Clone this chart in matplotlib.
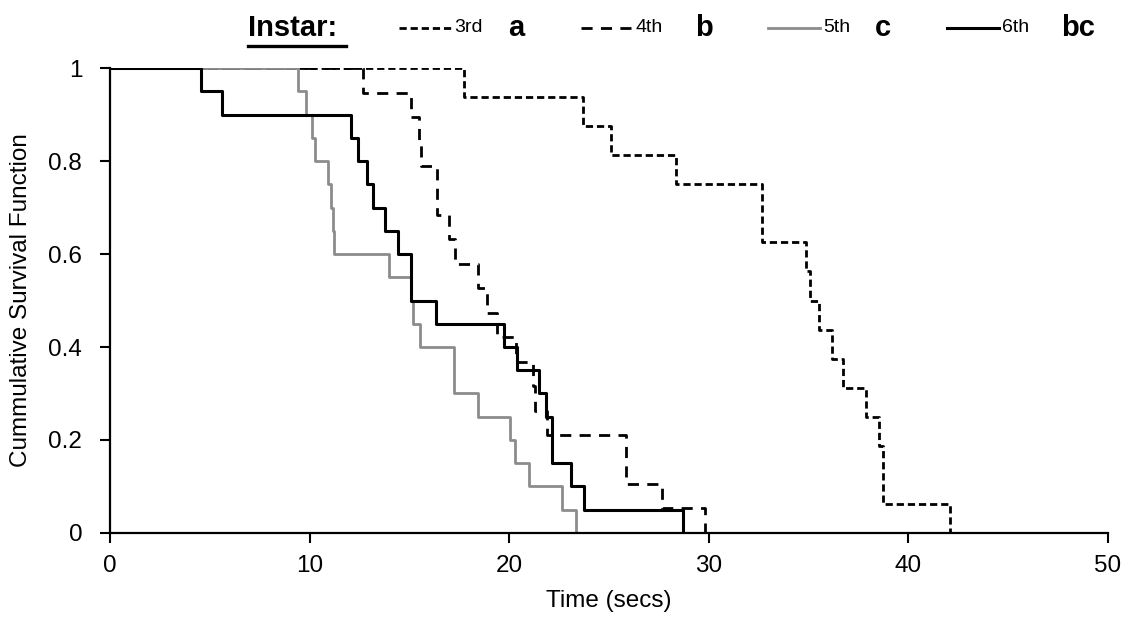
import numpy as np
import matplotlib
matplotlib.use("Agg")
import matplotlib.pyplot as plt
from matplotlib.lines import Line2D

plt.rcParams['font.family'] = ['Liberation Sans', 'DejaVu Sans']

# Kaplan-Meier style survival steps
t_3rd = [0, 17.75, 23.7, 25.1, 28.35, 32.7, 34.87, 35.09, 35.54, 36.2, 36.76, 37.88, 38.55, 38.76, 42.1]
s_3rd = [1, 0.9375, 0.875, 0.8125, 0.75, 0.625, 0.5625, 0.5, 0.4375, 0.375, 0.3125, 0.25, 0.1875, 0.0625, 0]

t_4th = [0, 12.7, 15.1, 15.5, 15.6, 16.37, 17.0, 17.29, 18.43, 18.88, 19.42, 20.33, 21.19, 21.3, 21.89, 25.86, 27.65, 29.82]
s_4th = [1, 0.947, 0.895, 0.842, 0.789, 0.684, 0.632, 0.579, 0.526, 0.474, 0.421, 0.368, 0.316, 0.263, 0.211, 0.105, 0.053, 0]

t_5th = [0, 9.44, 9.82, 10.11, 10.28, 10.94, 11.08, 11.2, 11.24, 14.0, 15.1, 15.2, 15.54, 17.22, 17.26, 18.44, 20.03, 20.31, 21.02, 22.67, 23.34]
s_5th = [1, 0.95, 0.9, 0.85, 0.8, 0.75, 0.7, 0.65, 0.6, 0.55, 0.5, 0.45, 0.4, 0.35, 0.3, 0.25, 0.2, 0.15, 0.1, 0.05, 0]

t_6th = [0, 4.56, 5.63, 12.06, 12.45, 12.87, 13.2, 13.78, 14.42, 15.07, 16.33, 19.75, 20.39, 21.52, 21.84, 22.17, 23.1, 23.77, 28.73]
s_6th = [1, 0.95, 0.9, 0.85, 0.8, 0.75, 0.7, 0.65, 0.6, 0.5, 0.45, 0.4, 0.35, 0.3, 0.25, 0.15, 0.1, 0.05, 0]

labels = ['3rd', '4th', '5th', '6th']
letters = ['a', 'b', 'c', 'bc']
x_ticks = [0, 10, 20, 30, 40, 50]
y_ticks = [0, 0.2, 0.4, 0.6, 0.8, 1]
y_ticklabels = ['0', '0.2', '0.4', '0.6', '0.8', '1']

gray = '#8c8c8c'
styles = [
    dict(color='black', lw=2.0, dashes=(2.6, 1.4)),
    dict(color='black', lw=2.0, dashes=(4, 3)),
    dict(color=gray, lw=2.0),
    dict(color='black', lw=2.2),
]

fig = plt.figure(figsize=(11.33, 6.3), dpi=100)
ax = fig.add_axes([0.0971, 0.154, 0.8804, 0.738])

series = [(t_3rd, s_3rd), (t_4th, s_4th), (t_5th, s_5th), (t_6th, s_6th)]
for (t, s), st in zip(series, styles):
    ax.step(t, s, where='post', **st)

ax.set_xlim(0, 50)
ax.set_ylim(0, 1)
ax.set_xticks(x_ticks)
ax.set_yticks(y_ticks)
ax.set_yticklabels(y_ticklabels)
ax.tick_params(labelsize=17.5, width=1.5, length=7, colors='black')
ax.tick_params(axis='x', pad=9)
ax.tick_params(axis='y', pad=13)
for side in ['top', 'right']:
    ax.spines[side].set_visible(False)
for side in ['left', 'bottom']:
    ax.spines[side].set_linewidth(1.6)

ax.set_xlabel('Time (secs)', fontsize=17.5, labelpad=9)
ax.set_ylabel('Cummulative Survival Function', fontsize=17.5, labelpad=12)

# custom legend row along the top
ly = 1 - 28 / 630
fig.text(248 / 1133, ly, 'Instar:', fontsize=21, fontweight='bold',
         ha='left', va='center')
fig.add_artist(Line2D([248 / 1133, 346 / 1133], [1 - 46 / 630] * 2, color='black', lw=2.4))
leg_x = [399, 581, 768, 947]
let_x = [516, 704, 883, 1078]
for lx, tx, lab, let, st in zip(leg_x, let_x, labels, letters, styles):
    fig.add_artist(Line2D([lx / 1133, (lx + 52) / 1133], [ly] * 2, **st))
    fig.text((lx + 55) / 1133, ly, lab, fontsize=14, ha='left', va='center')
    fig.text(tx / 1133, ly, let, fontsize=21, fontweight='bold',
             ha='center', va='center')

fig.savefig('out.png', dpi=100)
